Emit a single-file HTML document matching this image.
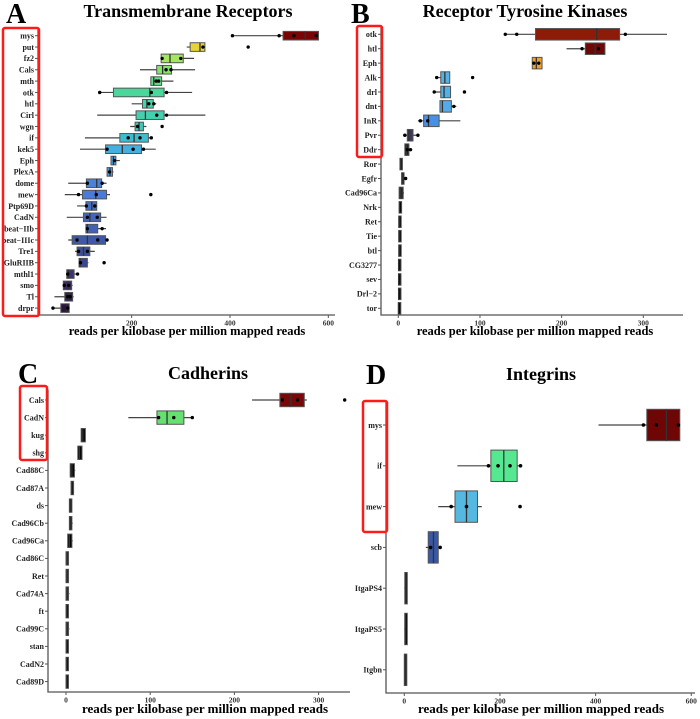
<!DOCTYPE html>
<html><head><meta charset="utf-8"><style>
html,body{margin:0;padding:0;background:#fff;}
svg{display:block;font-family:"Liberation Serif",serif;}
</style></head><body>
<svg id="fig" width="700" height="719" viewBox="0 0 700 719"></svg>
<script>
// ---- Panel A: Transmembrane Receptors ----
const aGenes=["mys","put","fz2","Cals","mth","otk","htl","Cirl","wgn","if","kek5","Eph","PlexA","dome","mew","Ptp69D","CadN","beat\u2212IIb","beat\u2212IIIc","Tre1","GluRIIB","mthl1","smo","Tl","drpr"];
const aLo=[407,312,260,217,239,132,200,130,197,105,95,158,150,71,64,89,68,107,71,85,93,68,61,43,37];
const aQ1=[508,319,260,251,239,163,222,209,207,176,147,158,150,108,100,107,102,107,79,89,93,68,61,64,56];
const aMed=[553,339,278,263,245,237,231,228,215,205,181,163,156,129,127,119,115,110,110,102,95,71,71,71,68];
const aQ3=[580,349,305,281,261,266,244,266,224,234,220,168,161,139,149,129,137,131,147,115,110,83,78,80,73];
const aHi=[580,349,327,329,285,323,250,350,230,241,249,176,163,149,156,130,149,148,151,125,112,93,80,82,73];
const aPts=[[405,500,530,575],[437,345],[300,262],[270,280],[250,255],[271,240,135],[235,245],[251,271],[262,212],[193,217,240],[203,224,150],[165],[155],[110,140],[92,239,128],[108,125],[110,130],[110,140],[89,131,150],[92,110],[144,96],[70,90],[63,72],[70,75],[40,70]];
const aTicks=[200,400,600];
const aColors=["#7a0403","#e6d43a","#a4e664","#86e46c","#62e088","#48d89c","#45d4a8","#44d0ae","#42c6b6","#40bcd0","#44b0e2","#47a6ea","#4a9ce8","#4a82d8","#4b7bd9","#4670c8","#4466ba","#4262b6","#3f58a8","#3c4e98","#3b4890","#3c3470","#392a60","#33204f","#2c1540"];

// ---- Panel B: Receptor Tyrosine Kinases ----
const bGenes=["otk","htl","Eph","Alk","drl","dnt","InR","Pvr","Ddr","Ror","Egfr","Cad96Ca","Nrk","Ret","Tie","btl","CG3277","sev","Drl\u22122","tor"];
const bLo=[131,206,164,45,43,51,24,6,8,2,4,1,1,0.5,0.5,0.5,0.2,0.2,0.2,0];
const bQ1=[168,229,164,52,52,51,31,11,8,2,4,1,1,0.5,0.5,0.5,0.2,0.2,0.2,0];
const bMed=[243,241,169,57,56,54,37,13,10,3,5,3,1.5,1,1,1,0.5,0.5,0.5,0.3];
const bQ3=[271,253,176,63,64,65,50,18,13,5,7,6,2,1.5,1.5,1.5,1,1,1,0.6];
const bHi=[329,253,176,63,64,71,76,26,16,5,10,7,2,2,3,2,1,1,1,1];
const bPts=[[145,278,131],[225,245],[166,172],[91,47],[81,44],[68],[27,36],[8,24],[11,15],[],[9],[],[],[],[],[],[],[],[],[]];
const bTicks=[0,100,200,300];
const bColors=["#8e1a08","#6e0808","#f0a030","#55b4e6","#55b0e6","#52acea","#4a8ee6","#3d3a5a","#202028","#111","#111","#222","#000","#000","#000","#000","#000","#000","#000","#000"];

// ---- Panel C: Cadherins ----
const cGenes=["Cals","CadN","kug","shg","Cad88C","Cad87A","ds","Cad96Cb","Cad96Ca","Cad86C","Ret","Cad74A","ft","Cad99C","stan","CadN2","Cad89D"];
const cLo=[221,74,18,14,5,6,4,4,2,0,0,0,0,0,0,0,0];
const cQ1=[254,108,18,14,5,6,4,4,2,0,0,0,0,0,0,0,0];
const cMed=[267,120,20,16,7,7,5,5,4,1.5,1.5,1.5,1,1.5,1,1,1];
const cQ3=[283,140,23,19,10,9,7,7,7,3,3,3,2,3,2,2,2];
const cHi=[286,151,23,19,11,9,7,8,8,3,3,4,2,4,2,2,2];
const cPts=[[331,257,275],[128,110,150],[],[],[],[],[],[],[],[],[],[],[],[],[],[],[]];
const cTicks=[0,100,200,300];
const cColors=["#7a0808","#66e070","#000","#000","#000","#000","#000","#000","#000","#000","#000","#000","#000","#000","#000","#000","#000"];

// ---- Panel D: Integrins ----
const dGenes=["mys","if","mew","scb","ItgaPS4","ItgaPS5","Itgbn"];
const dLo=[406,111,71,45,0,0,0];
const dQ1=[507,181,106,50,1,1,0];
const dMed=[548,208,130,61,3,2,2];
const dQ3=[576,236,153,71,6,5,4];
const dHi=[576,243,162,75,6,5,4];
const dPts=[[500,527,573],[176,196,221,243],[98,130,242],[75,55],[],[],[]];
const dTicks=[0,200,400,600];
const dColors=["#6e0606","#55e890","#55b8e0","#3a58a8","#000","#000","#000"];

const NS="http://www.w3.org/2000/svg";
const svg=document.getElementById('fig');
function mk(tag,attrs,parent){const e=document.createElementNS(NS,tag);for(const k in attrs)e.setAttribute(k,attrs[k]);(parent||svg).appendChild(e);return e;}

function panel(p){
  const g=mk('g',{});
  
  
  const xs=v=>p.x0+v*p.k;
  const ys=i=>p.y0+i*p.dy;
  const bh=p.dy*p.bf;
  const t=mk('text',{x:p.tx,y:p.ty,'text-anchor':'middle','font-size':p.tfs,'font-weight':'bold',fill:'#000'},g);
  t.textContent=p.title;
  
  
  const l=mk('text',{x:p.lx,y:p.ly,'font-size':28,'font-weight':'bold',fill:'#000'},g);
  l.textContent=p.letter;
  
  
  const ax=mk('path',{d:`M${p.axL},${p.y0-p.dy*0.6}V${p.axB}H${p.axR}`,fill:'none',stroke:'#555','stroke-width':1.3},g);
  
  
  p.ticks.forEach(v=>{
    mk('line',{x1:xs(v),x2:xs(v),y1:p.axB,y2:p.axB+3,stroke:'#555'},g);
    const tl=mk('text',{x:xs(v),y:p.axB+p.tlfs+3,'text-anchor':'middle','font-size':p.tlfs,'font-weight':'bold',fill:'#333'},g);
    tl.textContent=v;
    
    
  });
  const xt=mk('text',{x:p.xtx,y:p.xty,'text-anchor':'middle','font-size':p.xtfs,'font-weight':'bold',fill:'#000'},g);
  xt.textContent='reads per kilobase per million mapped reads';
  
  
  p.genes.forEach((gn,i)=>{
    const y=ys(i);
    mk('line',{x1:p.axL-3,x2:p.axL,y1:y,y2:y,stroke:'#555'},g);
    const lb=mk('text',{x:p.axL-4,y:y+p.gfs*0.35,'text-anchor':'end','font-size':p.gfs,'font-weight':'bold',fill:'#222'},g);
    lb.textContent=gn;
    
    
    const wl=mk('line',{x1:xs(p.lo[i]),x2:xs(p.hi[i]),y1:y,y2:y,stroke:'#444','stroke-width':1.2},g);
    
    
    const w=Math.max(xs(p.q3[i])-xs(p.q1[i]),2.5);
    const bx=mk('rect',{x:xs(p.q1[i]),y:y-bh/2,width:w,height:bh,fill:p.colors[i],stroke:'#555','stroke-width':1},g);
    
    
    mk('line',{x1:xs(p.med[i]),x2:xs(p.med[i]),y1:y-bh/2,y2:y+bh/2,stroke:'#333','stroke-width':1.3},g);
    p.pts[i].forEach(v=>{
      const c=mk('circle',{cx:xs(v),cy:y,r:p.r,fill:'#000'},g);
      
      
    });
  });
  const rb=mk('rect',{x:p.rb[0],y:p.rb[1],width:p.rb[2],height:p.rb[3],rx:2,fill:'none',stroke:'#ff1a1a','stroke-width':2.5},g);
  
  
}

panel({name:'panel-a-transmembrane-receptors',title:'Transmembrane Receptors',letter:'A',tx:188,ty:17,tfs:18,lx:6,ly:23,
  x0:33.3,k:0.4917,y0:35.7,dy:11.35,bf:0.76,axL:38,axR:335,axB:315,tlfs:7.5,xtx:187,xty:335,xtfs:12.5,gfs:8,r:1.7,
  genes:aGenes,lo:aLo,q1:aQ1,med:aMed,q3:aQ3,hi:aHi,pts:aPts,ticks:aTicks,colors:aColors,rb:[3,28,36,288]});
panel({name:'panel-b-receptor-tyrosine-kinases',title:'Receptor Tyrosine Kinases',letter:'B',tx:525,ty:17,tfs:18,lx:351,ly:23,
  x0:398.3,k:0.8167,y0:34.3,dy:14.42,bf:0.8,axL:381,axR:683,axB:315,tlfs:7.5,xtx:535,xty:335,xtfs:12.5,gfs:8,r:1.7,
  genes:bGenes,lo:bLo,q1:bQ1,med:bMed,q3:bQ3,hi:bHi,pts:bPts,ticks:bTicks,colors:bColors,rb:[357,26,25,131]});
panel({name:'panel-c-cadherins',title:'Cadherins',letter:'C',tx:208,ty:379,tfs:18,lx:18,ly:383,
  x0:66,k:0.842,y0:400,dy:17.6,bf:0.76,axL:48,axR:350,axB:692,tlfs:7.5,xtx:205,xty:713,xtfs:13,gfs:8,r:1.7,
  genes:cGenes,lo:cLo,q1:cQ1,med:cMed,q3:cQ3,hi:cHi,pts:cPts,ticks:cTicks,colors:cColors,rb:[20,386,27,74]});
panel({name:'panel-d-integrins',title:'Integrins',letter:'D',tx:541,ty:380,tfs:18,lx:366,ly:384,
  x0:404.3,k:0.4783,y0:425,dy:40.8,bf:0.77,axL:386,axR:695,axB:693,tlfs:7.5,xtx:541,xty:713,xtfs:13,gfs:8,r:1.8,
  genes:dGenes,lo:dLo,q1:dQ1,med:dMed,q3:dQ3,hi:dHi,pts:dPts,ticks:dTicks,colors:dColors,rb:[363,401,24,131]});
</script>
</body></html>
